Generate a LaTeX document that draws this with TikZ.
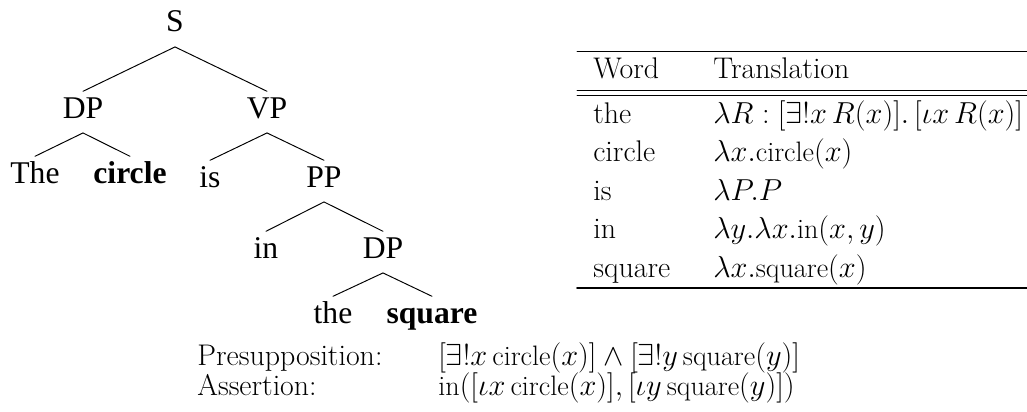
\documentclass[tikz,border=0pt]{standalone}
\usepackage{fontspec}
\newfontfamily\treefont{Liberation Serif}
\begin{document}
\begin{tikzpicture}[x=0.02cm,y=-0.02cm,line cap=round]
        % Styles
        \tikzstyle{tree node}=[anchor=base,inner sep=3pt,text height=12pt,text depth=5.3pt,font=\treefont\fontsize{18}{21}\selectfont]
        \tikzstyle{branch}=[line width=0.55pt]
        \tikzstyle{cell}=[anchor=base west,inner sep=0pt,font=\fontsize{17}{20}\selectfont]
        \tikzstyle{formula}=[cell,font=\fontsize{16}{19}\selectfont]
        \tikzstyle{thin rule}=[line width=0.5pt]
        \tikzstyle{thick rule}=[line width=1pt]
        \useasboundingbox (0,0) rectangle (1027,412);
        %the tree
        \node[tree node] (S) at (175,32) {S};
        \node[tree node] (DPa) at (83,118) {DP};
        \node[tree node] (VP) at (267,118) {VP};
        \node[tree node] (The) at (35,183) {The};
        \node[tree node] (circle) at (130,183) {\textbf{circle}};
        \node[tree node] (is) at (210,187) {is};
        \node[tree node] (PP) at (324,187) {PP};
        \node[tree node] (in) at (266,258) {in};
        \node[tree node] (DPb) at (383,258) {DP};
        \node[tree node] (the) at (333,323) {the};
        \node[tree node] (square) at (432,323) {\textbf{square}};
        \foreach \parent/\kid in {S/DPa,S/VP,DPa/The,DPa/circle,VP/is,VP/PP,PP/in,PP/DPb,DPb/the,DPb/square}
            \draw[branch] (\parent.south) -- (\kid.north);
        %the table
        \draw[thin rule] (577,51) -- (1027,51);
        \node[cell] (hdWord) at (593,79) {Word};
        \node[cell] (hdTrans) at (713,79) {Translation};
        \draw[thin rule] (577,90) -- (1027,90);
        \draw[thin rule] (577,95) -- (1027,95);
        \foreach \word/\trans [count=\i] in {the/{$\lambda R : [\exists!x\,R(x)].\,[\iota x\,R(x)]$},
                circle/{$\lambda x.\mathrm{circle}(x)$},
                is/{$\lambda P.P$},
                in/{$\lambda y.\lambda x.\mathrm{in}(x,y)$},
                square/{$\lambda x.\mathrm{square}(x)$}}
        {
            \node[cell] (w\i) at (593,84.5+38.5*\i) {\word};
            \node[formula] (t\i) at (713,84.5+38.5*\i) {\trans};
        }
        \draw[thick rule] (577,288) -- (1027,288);
        %what is said
        \node[cell] (presup) at (197,365) {Presupposition:};
        \node[formula] (presupF) at (438,365) {$[\exists!x\,\mathrm{circle}(x)]\wedge[\exists!y\,\mathrm{square}(y)]$};
        \node[cell] (assert) at (197,395) {Assertion:};
        \node[formula] (assertF) at (438,395) {$\mathrm{in}([\iota x\,\mathrm{circle}(x)],[\iota y\,\mathrm{square}(y)])$};
\end{tikzpicture}
\end{document}
